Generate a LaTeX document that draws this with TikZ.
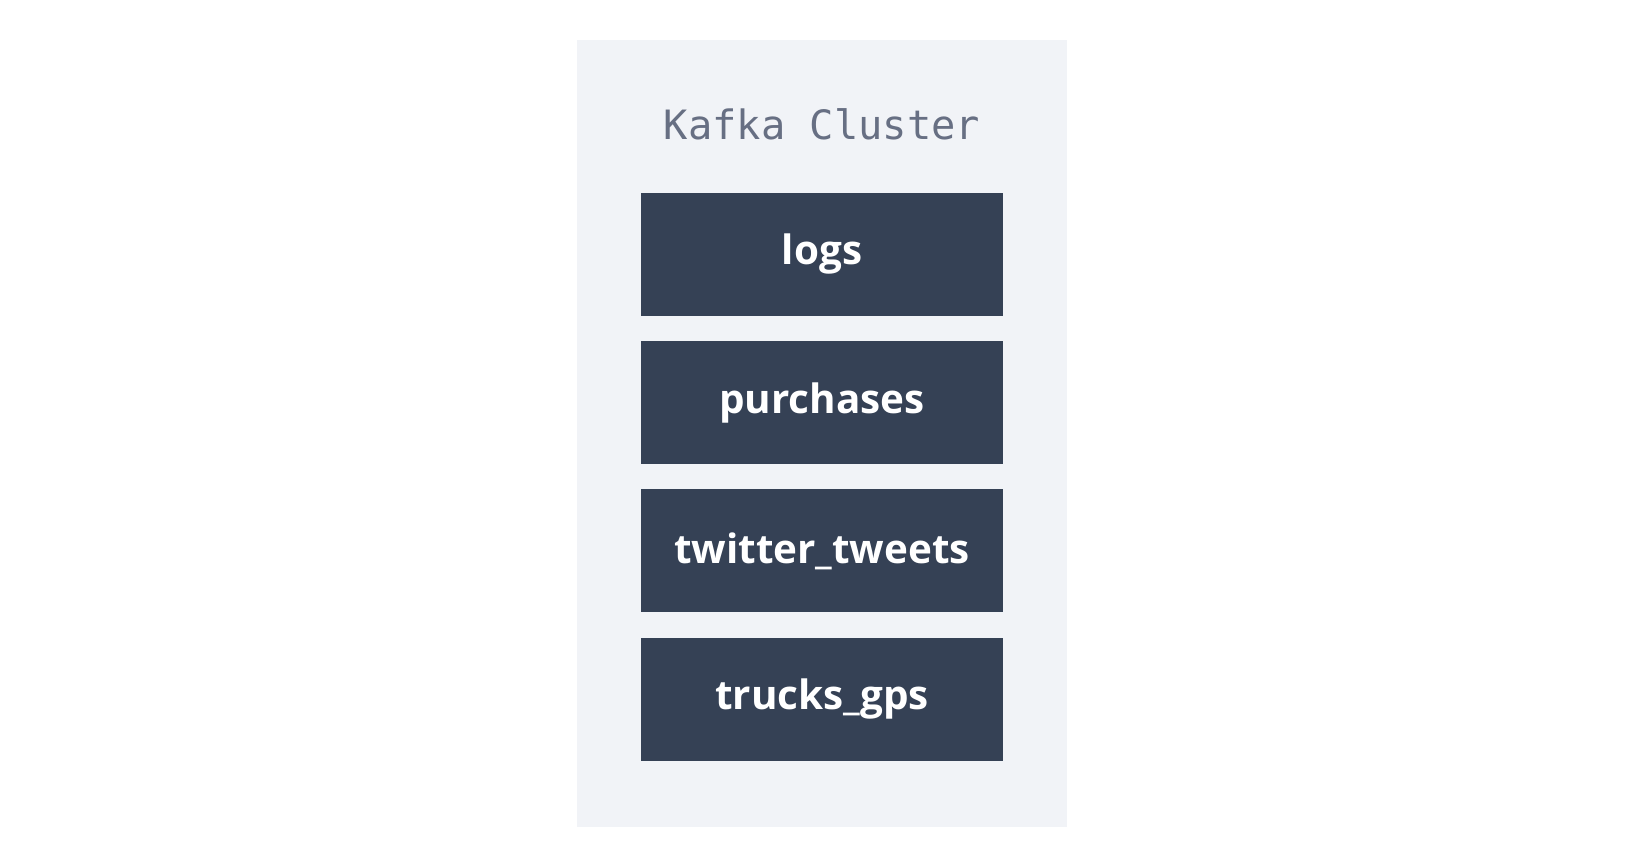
\documentclass[tikz,border=0pt]{standalone}
\usepackage{fontspec}
\setmainfont{Open Sans}
\newfontfamily\titlefont{DejaVu Sans Mono}
\usetikzlibrary{positioning}
\definecolor{panelgray}{HTML}{F1F3F7}
\definecolor{topicblue}{HTML}{354155}
\definecolor{titlegray}{HTML}{676F83}

\begin{document}
\begin{tikzpicture}[x=0.02cm,y=-0.02cm,
  topicnode/.style={rectangle, fill=topicblue, text=white, minimum width=7.24cm, minimum height=2.46cm, inner sep=0pt, font=\fontsize{23}{27}\selectfont\bfseries}]
\useasboundingbox (0,0) rectangle (1640,864);

%Panel
\fill[panelgray] (577,40) rectangle (1067,827);
\node[text=titlegray, font=\titlefont\fontsize{23}{27}\selectfont] (title) at (822,124) {Kafka Cluster};

%Nodes
\node[topicnode] (logs) at (822,254.5) {logs};
\node[topicnode] (purchases) [below=0.49cm of logs] {purchases};
\node[topicnode] (tweets) [below=0.49cm of purchases] {twitter\_tweets};
\node[topicnode] (trucks) [below=0.49cm of tweets] {trucks\_gps};

\end{tikzpicture}
\end{document}
